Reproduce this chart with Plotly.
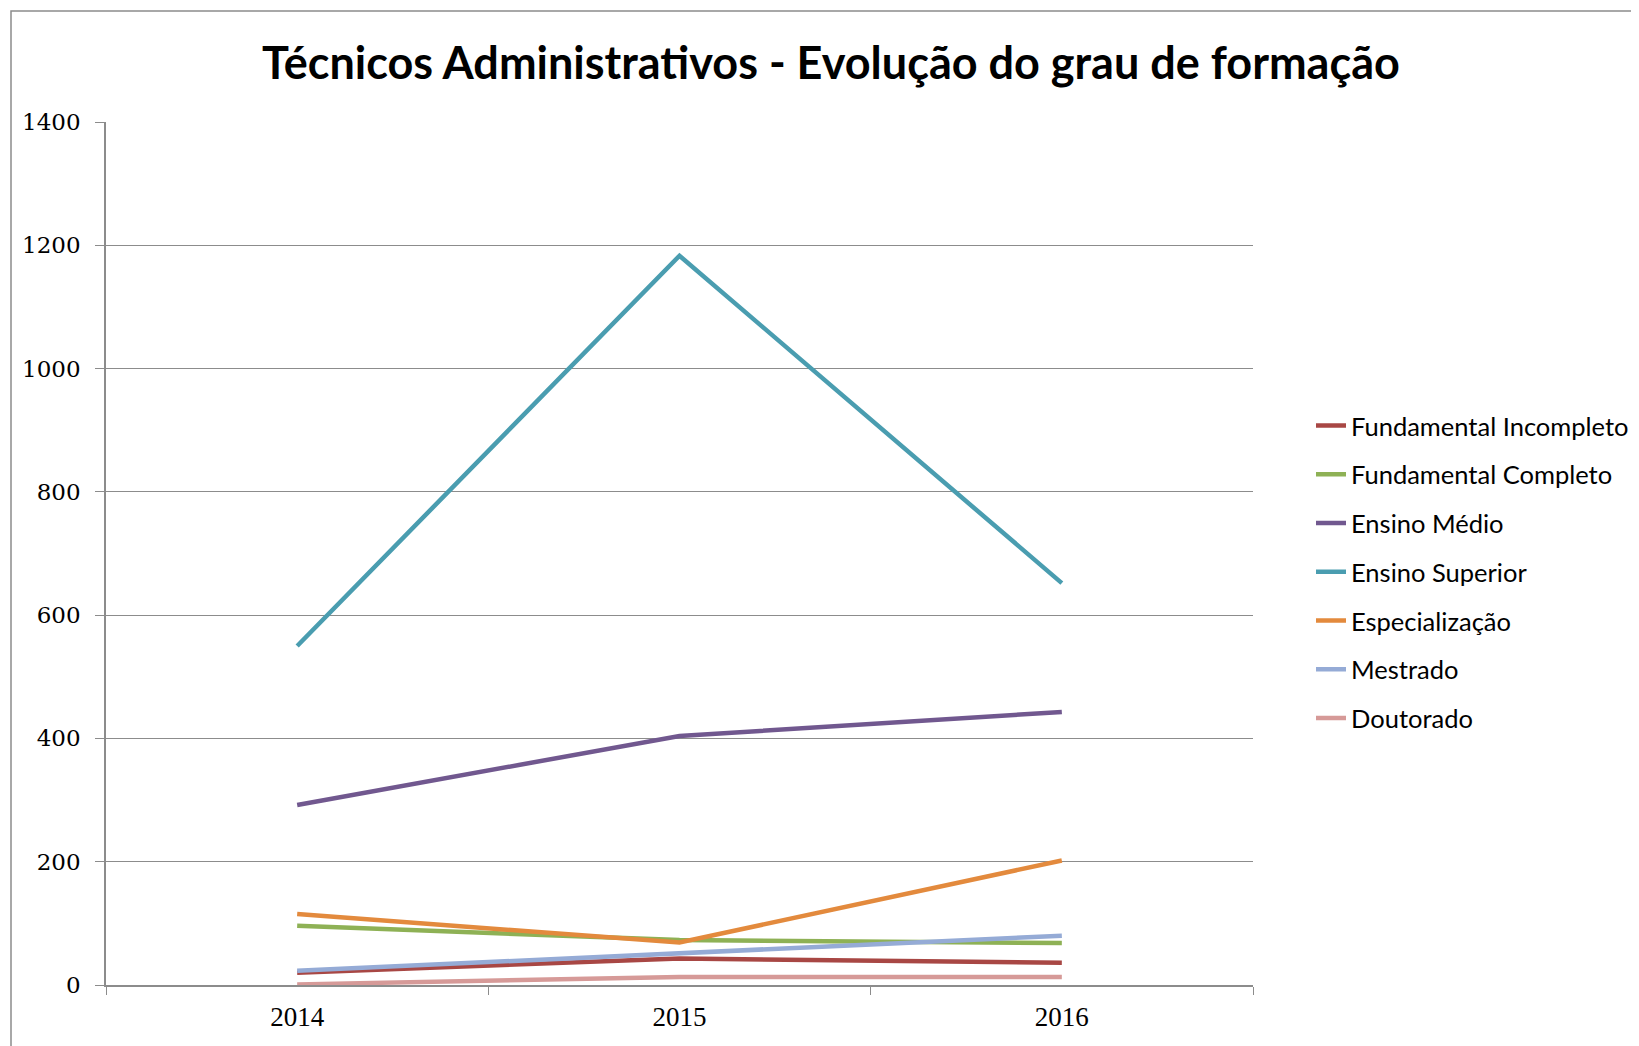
import plotly.graph_objs as go

anos = ['2014', '2015', '2016']

fund_incompleto = [20, 43, 36]
fund_completo = [96, 73, 68]
ensino_medio = [292, 404, 443]
ensino_superior = [550, 1183, 652]
especializacao = [115, 69, 202]
mestrado = [23, 51, 80]
doutorado = [1, 13, 13]

series = [
    ('Fundamental Incompleto', fund_incompleto, '#A84744'),
    ('Fundamental Completo', fund_completo, '#8EB155'),
    ('Ensino Médio', ensino_medio, '#71588F'),
    ('Ensino Superior', ensino_superior, '#4A9DB0'),
    ('Especialização', especializacao, '#E38A3D'),
    ('Mestrado', mestrado, '#95ABD6'),
    ('Doutorado', doutorado, '#D69A98'),
]

W, H = 1639, 1046
OFF = 8  # body margin of the html page
# plot area in page pixels
L, R, T, B = 106, 1253, 122, 985

data = []
for nome, vals, cor in series:
    data.append(go.Scatter(x=anos, y=vals, name=nome, mode='lines',
                           legendgroup=nome,
                           line=dict(color=cor, width=4.5)))

fig = go.Figure(data=data)

pw = R - L
ph = B - T

fig.update_layout(
    width=W - OFF, height=H - OFF,
    margin=dict(l=L - OFF, r=W - R, t=T - OFF, b=H - B, autoexpand=False),
    paper_bgcolor='white', plot_bgcolor='white',
    title=dict(text='<b>Técnicos Administrativos - Evolução do grau de formação</b>',
               x=(831 - OFF) / (W - OFF), xanchor='center', xref='container',
               y=1 - (63 - OFF) / (H - OFF), yanchor='middle', yref='container',
               font=dict(family='Lato', size=45, color='black')),
    legend=dict(x=(1311 - L) / pw, xanchor='left',
                y=(B - 572) / ph, yanchor='middle',
                font=dict(family='Lato', size=25.5, color='black'),
                tracegroupgap=12.6, bgcolor='rgba(0,0,0,0)'),
    xaxis=dict(type='category', range=[-0.5, 2.5], tickson='boundaries',
               ticks='outside', ticklen=8, tickcolor='#8C8C8C',
               showline=True, linecolor='#8C8C8C', linewidth=1.5,
               showgrid=False, ticklabelstandoff=7,
               tickfont=dict(family='Liberation Serif', size=27, color='black')),
    yaxis=dict(range=[0, 1400], dtick=200, ticks='outside', ticklen=9,
               tickcolor='#8C8C8C', showline=True, linecolor='#8C8C8C',
               linewidth=1.5, gridcolor='#8C8C8C', gridwidth=1, zeroline=False,
               ticklabelstandoff=10,
               tickfont=dict(family='DejaVu Serif', size=23, color='black')),
    shapes=[dict(type='rect', xref='paper', yref='paper',
                 x0=(11 - L) / pw, x1=(W + 10 - L) / pw,
                 y0=-(H + 10 - B) / ph, y1=1 + (T - 11) / ph,
                 line=dict(color='#8C8C8C', width=1.5))],
)

fig.write_html("out.html")
